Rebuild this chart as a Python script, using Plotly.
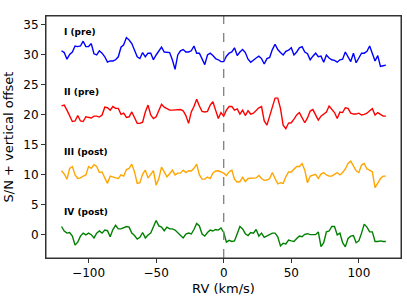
import numpy as np
import plotly.graph_objects as go

# RV grid (km/s)
rv = np.arange(-120, 121, 2)

# S/N + vertical offset
sn_I = [30.6,30.3,29.2,30.0,30.4,31.4,31.3,31.4,32.2,31.3,31.3,31.8,30.1,29.9,30.6,30.2,29.6,28.7,28.9,28.9,
        29.1,29.6,31.2,31.6,32.8,32.4,31.8,30.6,29.6,29.3,30.3,29.6,30.2,30.2,29.1,29.9,30.6,31.2,30.4,30.3,
        30.3,29.1,27.5,29.9,30.6,30.8,30.4,30.4,30.6,31.4,30.2,30.2,29.3,28.3,29.9,30.2,29.8,29.3,29.1,28.8,28.8,
        29.7,30.2,30.4,31.1,29.8,30.4,30.8,30.3,29.2,28.7,29.1,29.4,29.7,29.3,28.4,29.3,29.5,30.8,31.7,30.8,
        30.3,29.9,30.5,30.7,31.1,29.9,30.4,31.1,31.3,30.4,30.1,29.1,29.7,30.2,29.6,29.7,28.7,29.9,29.4,29.1,
        29.0,28.7,29.1,29.2,30.4,29.6,28.8,30.2,28.6,29.4,30.2,30.2,30.5,31.4,30.2,28.9,29.8,28.0,28.1,28.2]
sn_II = [21.4,21.55,20.7,19.8,18.8,18.9,19.8,18.9,18.8,19.6,19.5,19.4,19.7,19.7,19.55,19.9,21.2,21.1,20.7,21.3,
         21.0,21.0,20.0,20.2,19.5,19.6,20.4,19.3,18.5,18.5,18.7,20.4,21.55,19.9,19.3,19.6,20.8,21.7,21.2,21.0,
         20.7,20.7,20.7,20.7,20.8,20.6,19.8,18.5,20.4,21.3,22.5,21.4,20.5,20.4,20.5,21.55,22.1,20.7,19.3,20.3,19.7,
         20.7,21.3,21.3,20.7,20.9,20.05,20.7,19.8,20.6,20.05,20.2,20.6,21.1,21.3,18.9,18.2,19.7,21.2,22.7,22.7,
         21.0,18.2,17.6,18.55,18.6,19.2,19.9,20.3,19.3,18.6,19.4,20.55,20.8,19.95,19.05,19.7,20.05,20.4,21.4,20.9,
         20.3,19.3,20.4,20.3,21.1,21.0,20.2,20.05,20.05,20.2,19.9,20.0,20.2,20.6,20.95,19.9,20.3,20.0,19.7,19.7]
sn_III = [10.6,10.05,9.2,11.0,11.3,9.9,9.3,9.4,9.7,9.9,11.3,11.0,11.6,11.3,10.3,10.4,9.4,8.5,9.7,9.5,
          9.4,9.3,9.9,9.7,10.8,11.0,11.7,10.4,8.5,8.6,10.05,10.7,9.4,10.0,10.6,8.2,9.3,11.2,10.4,9.6,
          10.1,10.7,9.9,10.2,10.2,10.7,10.3,10.6,10.55,11.0,11.7,9.9,9.2,9.2,9.55,9.3,10.2,10.55,10.6,10.4,10.2,
          9.8,10.4,10.7,9.2,8.7,8.8,9.5,8.8,9.3,9.3,9.3,9.4,9.8,9.3,9.0,9.05,9.3,10.3,9.3,8.4,
          8.6,8.5,9.6,10.4,10.4,10.9,11.3,11.3,11.8,10.7,8.6,9.7,9.9,10.0,9.3,10.05,10.3,9.9,9.7,9.7,
          10.0,10.3,9.9,10.3,10.9,11.8,12.2,11.4,10.6,10.3,11.55,11.8,10.9,10.7,10.4,7.8,8.5,9.3,9.7,9.7]
sn_IV = [1.3,0.55,0.2,0.3,-0.3,-1.8,-1.3,-0.3,0.2,-0.1,0.2,-0.06,-0.6,0.2,0.55,0.2,0.7,0.6,-0.4,0.8,
         1.5,0.9,0.9,1.05,1.3,1.2,0.2,-0.2,-0.8,-0.5,0.3,-0.6,-0.1,0.2,1.3,2.3,1.4,1.2,0.6,1.2,
         0.9,0.9,0.7,0.3,-0.2,-0.6,0.05,0.2,0.05,0.8,1.8,1.4,0.05,-0.3,0.3,0.7,0.55,0.8,0.7,1.05,0.3,
         -1.3,-1.0,-1.2,-1.1,0.2,1.3,0.9,0.1,-0.2,0.3,0.2,0.8,-0.3,0.2,-0.5,-0.3,-0.1,0.2,0.2,-0.4,
         -1.95,-1.5,-1.6,-0.95,-1.1,-1.2,-0.7,-0.3,-0.4,0.0,0.1,-0.06,-0.06,-0.06,0.4,-2.05,-1.4,0.4,0.55,1.3,
         1.3,-0.1,0.2,-1.4,-2.1,-0.7,-0.3,-0.2,-1.4,-1.1,0.2,1.7,1.2,0.4,0.4,-1.2,-1.2,-1.1,-1.2,-1.2]

labels = ["I (pre)", "II (pre)", "III (post)", "IV (post)"]
offsets = [30, 20, 10, 0]
colors = ["#0000ff", "#ff0000", "#ffa500", "#008000"]
series = [sn_I, sn_II, sn_III, sn_IV]

fig = go.Figure()
for s, c in zip(series, colors):
    fig.add_trace(go.Scatter(x=rv, y=s, mode="lines", line=dict(color=c, width=1.4, shape="linear"),
                             showlegend=False, hoverinfo="skip"))

for lab, off in zip(labels, offsets):
    fig.add_annotation(x=-120, y=off + 3.8, text="<b>" + lab + "</b>", showarrow=False,
                       xref="x", yref="y", xanchor="left", yanchor="middle",
                       font=dict(size=9, color="black", family="DejaVu Sans"))

fig.add_shape(type="line", x0=0, x1=0, y0=0, y1=1, xref="x", yref="paper",
              line=dict(color="gray", width=1.3, dash="dash"))
# axes frame
fig.add_shape(type="rect", x0=0, x1=1, y0=0, y1=1, xref="paper", yref="paper",
              line=dict(color="#333333", width=1), fillcolor="rgba(0,0,0,0)", layer="above")

axis_common = dict(showgrid=False, zeroline=False, showline=True, linecolor="#333",
                   linewidth=1, mirror=True, ticks="outside", ticklen=4, tickcolor="#333",
                   tickwidth=1, automargin=False,
                   tickfont=dict(size=12, color="black", family="DejaVu Sans"))
fig.update_xaxes(range=[-131.5, 131.2], tickvals=[-100, -50, 0, 50, 100],
                 title=dict(text="RV (km/s)", font=dict(size=13, color="black", family="DejaVu Sans"),
                            standoff=4), **axis_common)
fig.update_yaxes(range=[-3.95, 36.4], tickvals=[0, 5, 10, 15, 20, 25, 30, 35],
                 title=dict(text="S/N + vertical offset", font=dict(size=13, color="black", family="DejaVu Sans"),
                            standoff=6), **axis_common)
fig.update_layout(width=407, height=301, margin=dict(l=46, r=6, t=16, b=43, autoexpand=False),
                  plot_bgcolor="white", paper_bgcolor="white",
                  font=dict(family="DejaVu Sans"))
fig.write_html("out.html", config={"displayModeBar": False, "staticPlot": True},
               post_script="document.body.style.margin='0';document.body.style.overflow='hidden';")
